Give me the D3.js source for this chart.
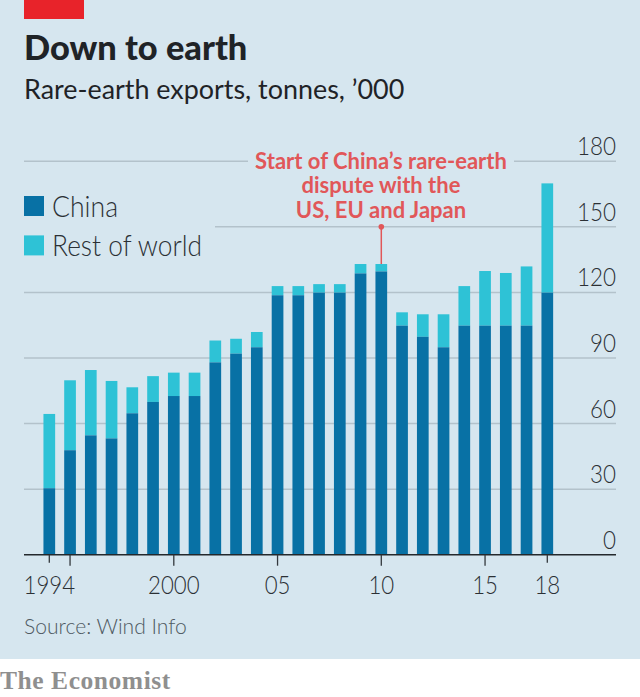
<!DOCTYPE html>
<html><head><meta charset="utf-8">
<script src="https://cdn.jsdelivr.net/npm/d3@7"></script>
<style>html,body{margin:0;padding:0;background:#fff}svg{display:block}text{font-family:Lato,sans-serif}</style>
</head><body><div id="c"></div>
<script>
const years=[1994,1995,1996,1997,1998,1999,2000,2001,2002,2003,2004,2005,2006,2007,2008,2009,2010,2011,2012,2013,2014,2015,2016,2017,2018];
const china=[30.4,47.8,54.6,53.2,64.7,69.9,72.6,72.6,88,92,94.9,118.7,118.7,119.9,119.9,128.7,129.6,104.8,99.7,94.9,104.8,104.8,104.8,104.8,119.9];
const totals=[64.4,79.8,84.5,79.5,76.6,81.7,83.3,83.3,98,98.8,101.9,122.9,122.9,123.8,123.8,133,133,110.9,110,110,122.9,129.8,128.9,131.9,169.9];
const yTicks=[0,30,60,90,120,150,180];
const xTicks=[1994,1995,2000,2005,2010,2015,2018];
const xLabels=[[1994,"1994"],[2000,"2000"],[2005,"05"],[2010,"10"],[2015,"15"],[2018,"18"]];
const seriesNames=["China","Rest of world"];
const noteLines=["Start of China’s rare-earth","dispute with the","US, EU and Japan"];
const C={china:"#0871a5",rest:"#2ec2d6",bg:"#d6e6ef",grid:"#b3c2cb",ink:"#2b3035",red:"#e15759"};

const W=640,H=697;
const svg=d3.select("#c").append("svg").attr("width",W).attr("height",H);
svg.append("rect").attr("width",W).attr("height",659).attr("fill",C.bg);
svg.append("rect").attr("x",24).attr("y",0).attr("width",60).attr("height",19).attr("fill","#e8232a");

const y=d3.scaleLinear().domain([0,180]).range([554.7,161.3]);
const x=d3.scaleLinear().domain([1994,2018]).range([49.3,547.3]);
const bw=11.7;

const gridSegs=new Map([[180,[[24,248],[514,616]]],[150,[[215,616]]]]);
yTicks.filter(d=>d>0).forEach(t=>{
  (gridSegs.get(t)||[[24,616]]).forEach(s=>{
    svg.append("line").attr("x1",s[0]).attr("x2",s[1]).attr("y1",y(t)).attr("y2",y(t))
      .attr("stroke",C.grid).attr("stroke-width",1.5);
  });
});

svg.selectAll(".rest").data(years).join("rect").attr("class","rest")
  .attr("x",d=>x(d)-bw/2).attr("width",bw)
  .attr("y",(d,i)=>y(totals[i])).attr("height",(d,i)=>y(china[i])-y(totals[i]))
  .attr("fill",C.rest);
svg.selectAll(".china").data(years).join("rect").attr("class","china")
  .attr("x",d=>x(d)-bw/2).attr("width",bw)
  .attr("y",(d,i)=>y(china[i])).attr("height",(d,i)=>y(0)-y(china[i]))
  .attr("fill",C.china);

svg.append("line").attr("x1",24).attr("x2",616).attr("y1",y(0)).attr("y2",y(0)).attr("stroke","#23282c").attr("stroke-width",1.6);
svg.selectAll(".xt").data(xTicks).join("line").attr("class","xt")
  .attr("x1",d=>x(d)).attr("x2",d=>x(d)).attr("y1",y(0))
  .attr("y2",d=>y(0)+((d===1994||d===2018)?8:11))
  .attr("stroke","#33383d").attr("stroke-width",1.3);

svg.selectAll(".xl").data(xLabels).join("text").attr("class","xl")
  .attr("x",d=>x(d[0])).attr("y",594).attr("text-anchor","middle")
  .attr("font-size",26).attr("font-weight",300).attr("fill",C.ink)
  .attr("textLength",d=>d[1].length*12.9).attr("lengthAdjust","spacingAndGlyphs").text(d=>d[1]);

svg.selectAll(".yl").data(yTicks).join("text").attr("class","yl")
  .attr("x",616).attr("y",d=>y(d)-6).attr("text-anchor","end")
  .attr("font-size",26).attr("font-weight",300).attr("fill",C.ink)
  .attr("textLength",d=>String(d).length*13).attr("lengthAdjust","spacingAndGlyphs").text(d=>d);

svg.append("text").attr("x",24).attr("y",60).attr("font-size",34.4).attr("font-weight",900).attr("fill","#1f2327").text("Down to earth");
svg.append("text").attr("x",24).attr("y",99).attr("font-size",26.9).attr("font-weight",400).attr("fill","#1f2327").text("Rare-earth exports, tonnes, ’000");

const legendW=[66,150];
[C.china,C.rest].forEach((c,i)=>{
  svg.append("rect").attr("x",24).attr("y",196+i*39.4).attr("width",20).attr("height",20).attr("fill",c);
  svg.append("text").attr("x",52).attr("y",217+i*39.2).attr("font-size",29).attr("font-weight",300).attr("fill",C.ink)
    .attr("textLength",legendW[i]).attr("lengthAdjust","spacingAndGlyphs").text(seriesNames[i]);
});

noteLines.forEach((t,i)=>{
  svg.append("text").attr("x",381).attr("y",169+i*24.3).attr("text-anchor","middle")
    .attr("font-size",22).attr("font-weight",700).attr("fill",C.red).text(t);
});
svg.append("line").attr("x1",x(2010)).attr("x2",x(2010)).attr("y1",y(150)).attr("y2",y(totals[16])).attr("stroke",C.red).attr("stroke-width",1.5);
svg.append("circle").attr("cx",x(2010)).attr("cy",y(150)).attr("r",2.8).attr("fill",C.red);

svg.append("text").attr("x",24).attr("y",634).attr("font-size",21.1).attr("font-weight",300).attr("fill","#4f5a62").text("Source: Wind Info");
svg.append("text").attr("x",0).attr("y",689).attr("font-size",25.5).attr("font-weight",700).attr("letter-spacing",0.55).attr("fill","#8f8f8f").style("font-family","'Liberation Serif',serif").text("The Economist");
</script></body></html>
